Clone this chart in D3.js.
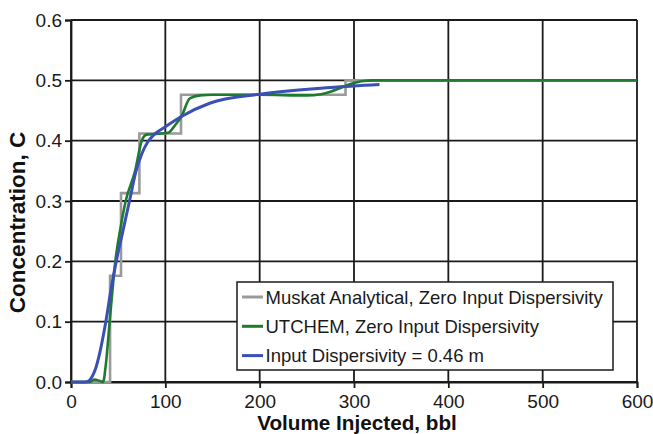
<!DOCTYPE html>
<html>
<head>
<meta charset="utf-8">
<script src="https://cdn.jsdelivr.net/npm/d3@7"></script>
<style>
  body { margin: 0; background: #fff; }
  svg { display: block; font-family: "Liberation Sans", Arial, sans-serif; }
</style>
</head>
<body>
<svg id="chart" width="653" height="434"></svg>
<script>
// values
const xTicks = [0, 100, 200, 300, 400, 500, 600];
const yTicks = [0, 0.1, 0.2, 0.3, 0.4, 0.5, 0.6];

// Muskat analytical (step function)
const muskatX = [0, 41.4, 53, 72.5, 116.6, 291, 600];
const muskatY = [0, 0.176, 0.313, 0.412, 0.476, 0.5, 0.5];

// UTCHEM, zero input dispersivity
const utchemX = [0, 20, 25, 30, 34, 37, 41, 47, 53, 58, 68, 75, 80, 90, 103, 110, 117, 126, 137, 150, 200, 250, 265, 275, 285, 299, 310, 320, 600];
const utchemY = [0, 0, 0.004, 0.002, 0, 0.03, 0.1, 0.2, 0.26, 0.3, 0.35, 0.4, 0.41, 0.411, 0.413, 0.425, 0.44, 0.47, 0.475, 0.476, 0.476, 0.475, 0.477, 0.481, 0.487, 0.495, 0.499, 0.5, 0.5];

// input dispersivity = 0.46 m
const dispX = [0, 15, 18, 22, 26, 30, 34, 38, 42, 48, 55, 62, 69, 75, 81, 88, 100, 117, 147, 200, 275, 327];
const dispY = [0, 0, 0.001, 0.008, 0.022, 0.045, 0.075, 0.11, 0.15, 0.2, 0.25, 0.3, 0.35, 0.378, 0.397, 0.41, 0.423, 0.44, 0.462, 0.477, 0.488, 0.493];

const legendLabels = [
  "Muskat Analytical, Zero Input Dispersivity",
  "UTCHEM, Zero Input Dispersivity",
  "Input Dispersivity = 0.46 m"
];
const colors = ["#9a9a9a", "#1e7b2e", "#3a50b4"];

const margin = { top: 20, right: 16, bottom: 52, left: 71 };
const width = 653 - margin.left - margin.right;
const height = 434 - margin.top - margin.bottom;

const svg = d3.select("#chart");
const g = svg.append("g").attr("transform", `translate(${margin.left},${margin.top})`);

const x = d3.scaleLinear().domain([0, 600]).range([0, width]);
const y = d3.scaleLinear().domain([0, 0.6]).range([height, 0]);

// grid
g.append("g")
  .selectAll("line")
  .data(xTicks)
  .join("line")
  .attr("x1", (d) => x(d))
  .attr("x2", (d) => x(d))
  .attr("y1", 0)
  .attr("y2", height)
  .attr("stroke", "#1a1a1a")
  .attr("stroke-width", 1.8);

g.append("g")
  .selectAll("line")
  .data(yTicks)
  .join("line")
  .attr("x1", 0)
  .attr("x2", width)
  .attr("y1", (d) => y(d))
  .attr("y2", (d) => y(d))
  .attr("stroke", "#1a1a1a")
  .attr("stroke-width", 1.8);

// axes
const xAxis = g.append("g")
  .attr("transform", `translate(0,${height})`)
  .call(d3.axisBottom(x).tickValues(xTicks).tickSize(6).tickPadding(7).tickFormat(d3.format("d")));
const yAxis = g.append("g")
  .call(d3.axisLeft(y).tickValues(yTicks).tickSize(6).tickPadding(3).tickFormat(d3.format(".1f")));

[xAxis, yAxis].forEach((a) => {
  a.select(".domain").attr("stroke", "#1a1a1a").attr("stroke-width", 1.8);
  a.selectAll(".tick line").attr("stroke", "#1a1a1a").attr("stroke-width", 1.8);
  a.selectAll(".tick text").attr("fill", "#1a1a1a").style("font-size", "19px");
});

// series
const line = d3.line().x((d) => x(d[0])).y((d) => y(d[1]));
const zip = (xs, ys) => xs.map((v, i) => [v, ys[i]]);

g.append("path")
  .datum(zip(muskatX, muskatY))
  .attr("fill", "none")
  .attr("stroke", colors[0])
  .attr("stroke-width", 2.6)
  .attr("d", line.curve(d3.curveStepAfter));

g.append("path")
  .datum(zip(utchemX, utchemY))
  .attr("fill", "none")
  .attr("stroke", colors[1])
  .attr("stroke-width", 2.6)
  .attr("d", line.curve(d3.curveMonotoneX));

g.append("path")
  .datum(zip(dispX, dispY))
  .attr("fill", "none")
  .attr("stroke", colors[2])
  .attr("stroke-width", 3)
  .attr("d", line.curve(d3.curveMonotoneX));

// legend
const legend = svg.append("g").attr("transform", "translate(237,282)");
legend.append("rect")
  .attr("width", 376)
  .attr("height", 88)
  .attr("fill", "#fff")
  .attr("stroke", "#1a1a1a")
  .attr("stroke-width", 1.5);

legendLabels.forEach((label, i) => {
  const ly = 15 + i * 29.3;
  legend.append("line")
    .attr("x1", 5)
    .attr("x2", 26)
    .attr("y1", ly)
    .attr("y2", ly)
    .attr("stroke", colors[i])
    .attr("stroke-width", 3);
  legend.append("text")
    .attr("x", 28.5)
    .attr("y", ly + 6.5)
    .attr("fill", "#1a1a1a")
    .style("font-size", "18.5px")
    .text(label);
});

// axis titles
svg.append("text")
  .attr("x", 357)
  .attr("y", 430)
  .attr("text-anchor", "middle")
  .attr("fill", "#111")
  .style("font-size", "20.7px")
  .style("font-weight", "bold")
  .text("Volume Injected, bbl");

svg.append("text")
  .attr("transform", "translate(25,222.5) rotate(-90)")
  .attr("text-anchor", "middle")
  .attr("fill", "#111")
  .style("font-size", "22.5px")
  .style("font-weight", "bold")
  .text("Concentration, C");
</script>
</body>
</html>
